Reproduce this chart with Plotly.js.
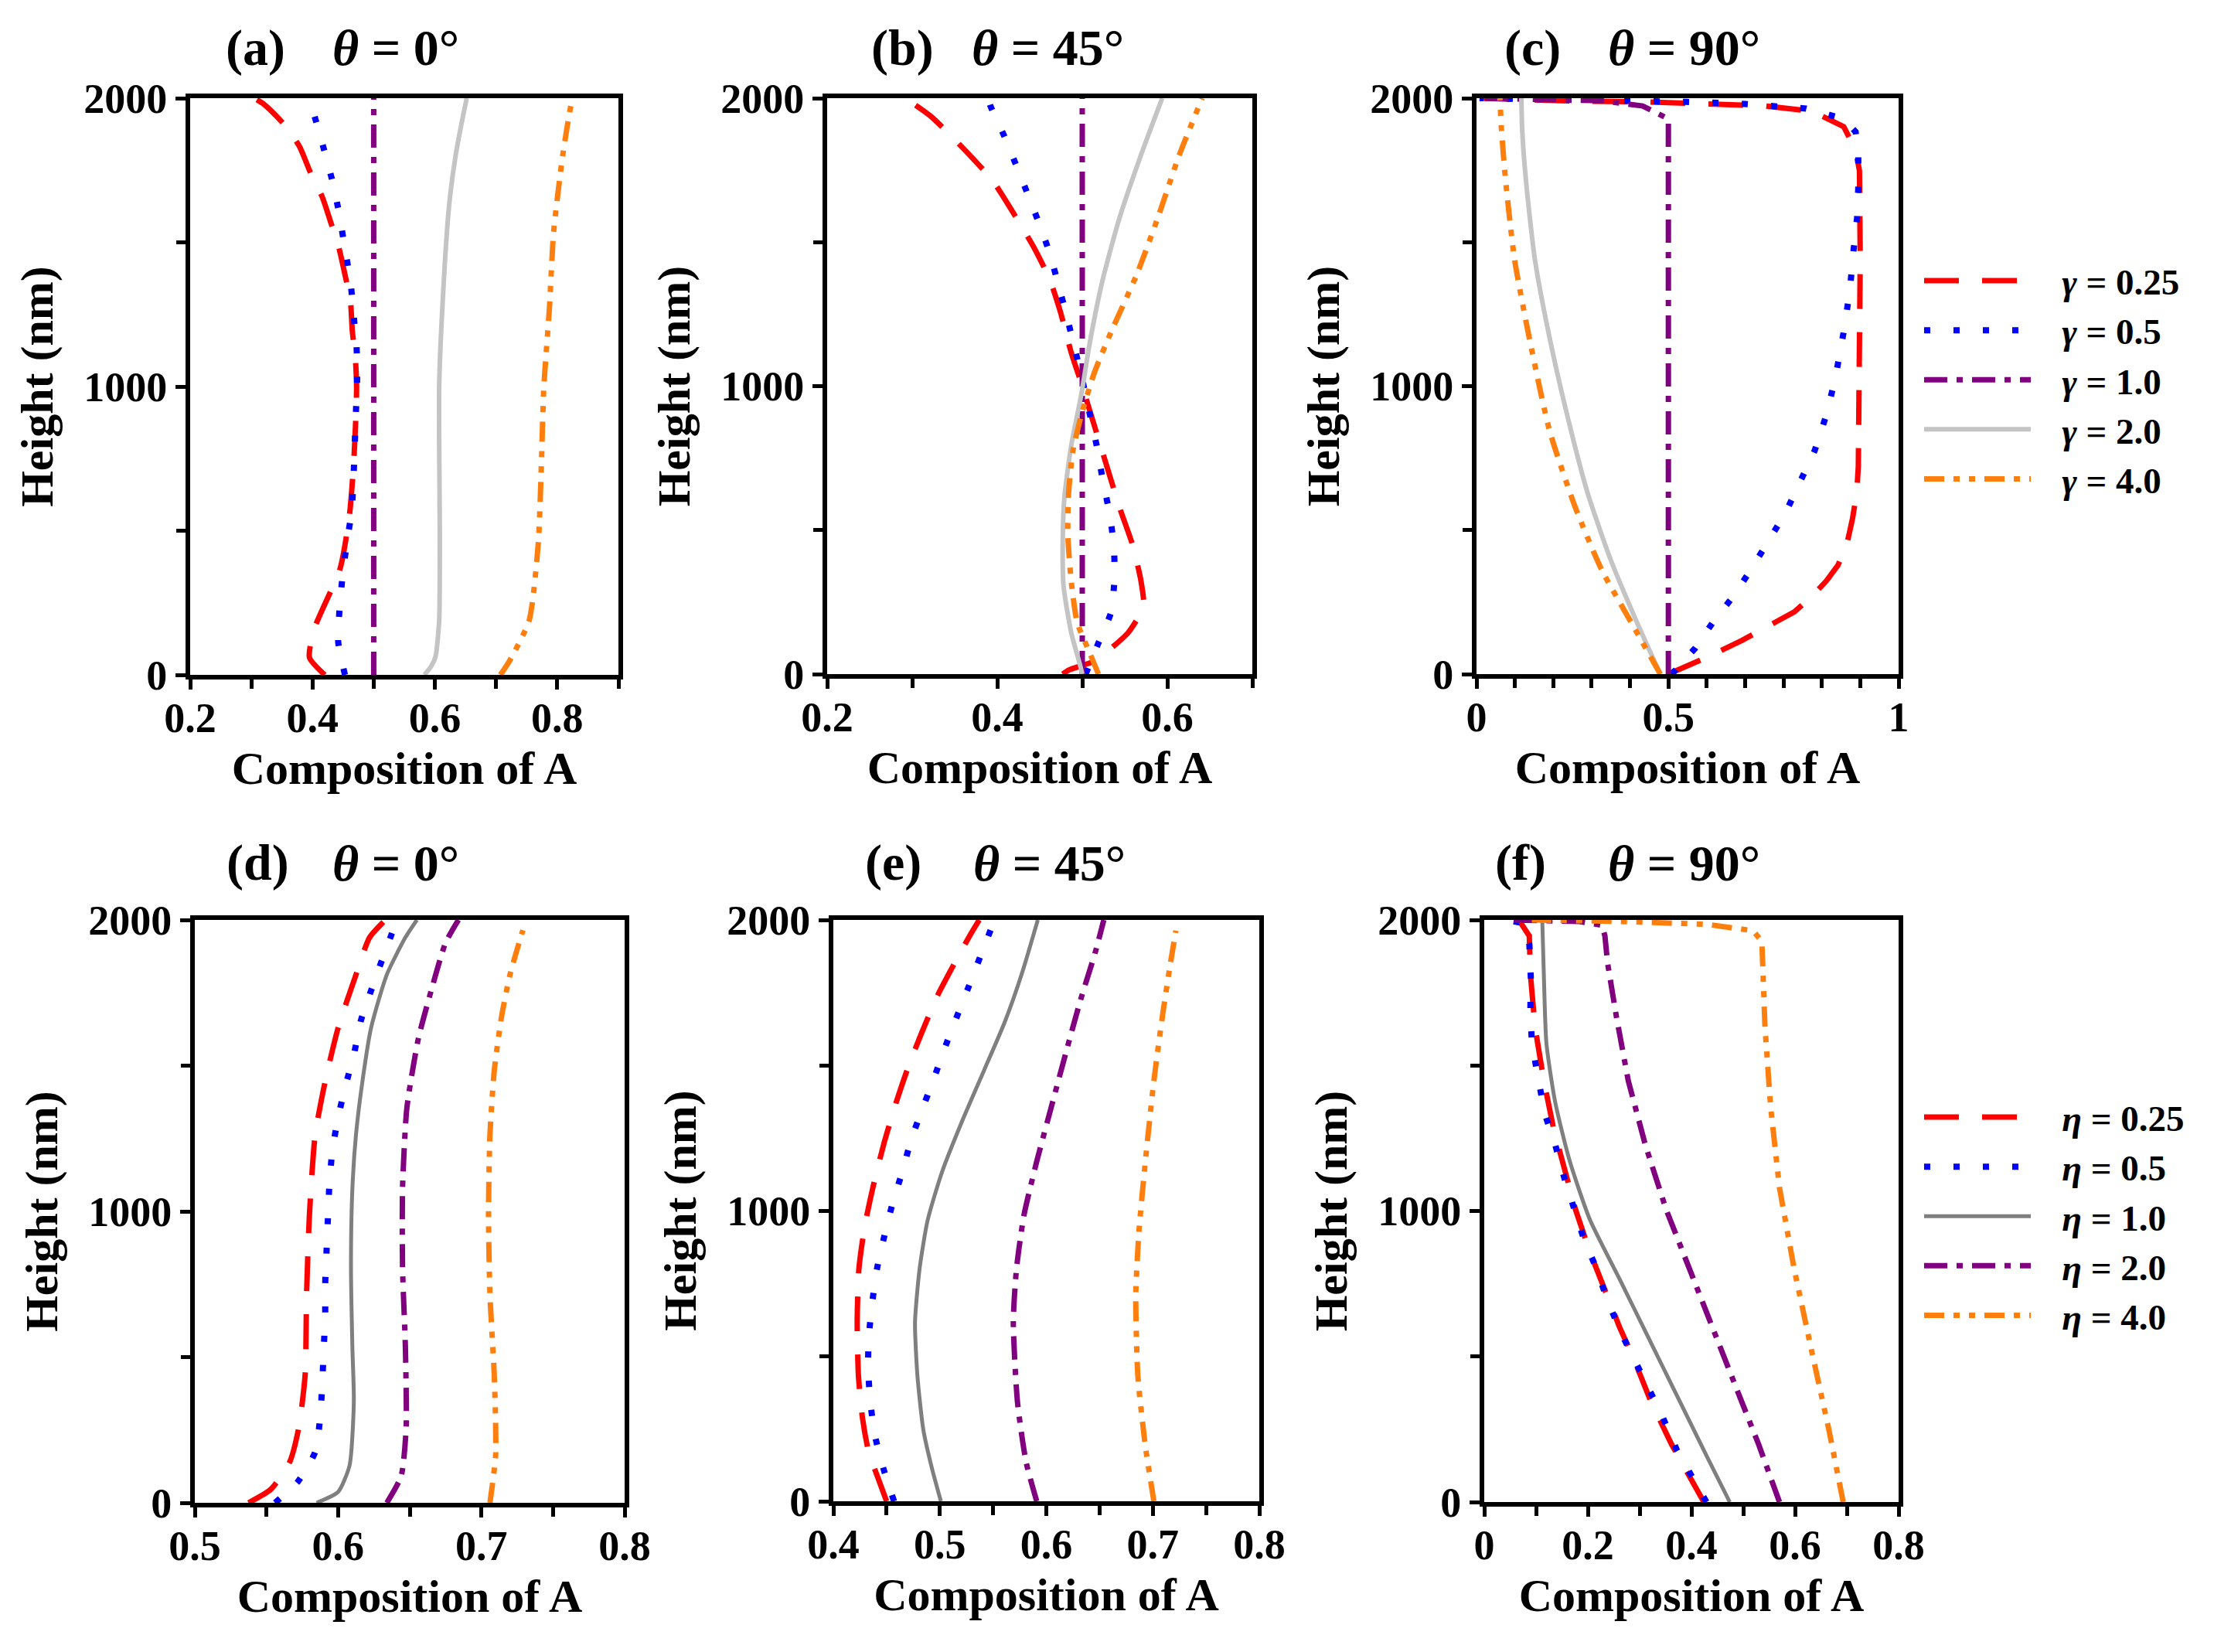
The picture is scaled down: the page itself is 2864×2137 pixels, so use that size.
<!DOCTYPE html>
<html>
<head>
<meta charset="utf-8">
<script src="https://cdn.plot.ly/plotly-3.0.1.min.js"></script>
<style>
  html, body { margin: 0; padding: 0; background: #ffffff; }
  #fig { width: 2864px; height: 2137px; }
</style>
</head>
<body>
<div id="fig"></div>
<script>
// ---- data: height (nm) and composition of A ----
// (a) theta = 0, gamma series
var aRedH = [0, 60, 160, 368, 547, 726, 906, 1000, 1099, 1193, 1295, 1388, 1482, 1568, 1657, 1745, 1831, 1906, 1980, 2000];
var aRedX = [0.42, 0.395, 0.403, 0.445, 0.46, 0.467, 0.471, 0.472, 0.47, 0.465, 0.462, 0.453, 0.443, 0.43, 0.416, 0.396, 0.379, 0.355, 0.32, 0.305];
var aBlueH = [0, 113, 224, 341, 457, 569, 682, 795, 915, 1027, 1137, 1252, 1365, 1477, 1595, 1708, 1820, 1925, 1960];
var aBlueX = [0.453, 0.442, 0.444, 0.449, 0.456, 0.464, 0.467, 0.469, 0.471, 0.473, 0.472, 0.467, 0.462, 0.453, 0.444, 0.433, 0.419, 0.405, 0.40];
var aPurpleH = [0, 2000];
var aPurpleX = [0.5, 0.5];
var aGrayH = [0, 30, 63, 188, 500, 800, 1000, 1265, 1623, 1803, 1928, 2000];
var aGrayX = [0.583, 0.594, 0.601, 0.607, 0.608, 0.607, 0.607, 0.612, 0.623, 0.634, 0.645, 0.652];
var aOrangeH = [0, 45, 188, 457, 726, 996, 1265, 1534, 1803, 1982, 2000];
var aOrangeX = [0.707, 0.721, 0.754, 0.769, 0.774, 0.778, 0.787, 0.794, 0.809, 0.823, 0.826];

// (b) theta = 45, gamma series
var bRedH = [0, 14, 45, 90, 144, 234, 324, 450, 577, 721, 865, 1009, 1117, 1261, 1369, 1477, 1577, 1712, 1820, 1937, 2000];
var bRedX = [0.477, 0.484, 0.514, 0.534, 0.554, 0.572, 0.569, 0.559, 0.544, 0.529, 0.514, 0.499, 0.487, 0.474, 0.462, 0.444, 0.424, 0.395, 0.362, 0.322, 0.292];
var bBlueH = [0, 108, 216, 342, 450, 559, 676, 793, 901, 1009, 1121, 1240, 1351, 1459, 1559, 1658, 1762, 1870, 1973, 2000];
var bBlueX = [0.504, 0.519, 0.534, 0.538, 0.537, 0.532, 0.524, 0.517, 0.509, 0.501, 0.492, 0.482, 0.472, 0.462, 0.45, 0.437, 0.423, 0.408, 0.392, 0.389];
var bPurpleH = [0, 2000];
var bPurpleX = [0.5, 0.5];
var bGrayH = [0, 36, 144, 306, 450, 613, 793, 973, 1153, 1369, 1586, 1802, 2000];
var bGrayX = [0.5, 0.497, 0.487, 0.478, 0.477, 0.479, 0.487, 0.499, 0.509, 0.524, 0.544, 0.569, 0.594];
var bOrangeH = [0, 72, 180, 324, 486, 631, 775, 901, 1045, 1189, 1387, 1586, 1802, 2000];
var bOrangeX = [0.519, 0.509, 0.494, 0.487, 0.483, 0.484, 0.489, 0.499, 0.514, 0.534, 0.564, 0.589, 0.614, 0.641];

// (c) theta = 90, gamma series
var cRedH = [0, 58, 117, 171, 216, 270, 324, 378, 450, 541, 631, 721, 1081, 1441, 1748, 1820, 1901, 1955, 1973, 1982, 1987, 1991, 2000];
var cRedX = [0.5, 0.6, 0.692, 0.767, 0.828, 0.874, 0.912, 0.942, 0.965, 0.98, 0.991, 0.995, 0.998, 1.0, 0.998, 0.988, 0.957, 0.874, 0.752, 0.6, 0.448, 0.22, 0.008];
var cBlueH = [0, 90, 180, 270, 360, 459, 559, 667, 775, 901, 1027, 1189, 1333, 1477, 1586, 1694, 1802, 1883, 1928, 1964, 1982, 1987, 1994, 2000];
var cBlueX = [0.509, 0.57, 0.616, 0.669, 0.714, 0.76, 0.805, 0.843, 0.881, 0.912, 0.935, 0.957, 0.973, 0.983, 0.992, 0.995, 0.995, 0.988, 0.957, 0.859, 0.676, 0.547, 0.296, 0.008];
var cPurpleH = [0, 1928, 1973, 1991, 2000];
var cPurpleX = [0.5, 0.5, 0.433, 0.327, 0.008];
var cGrayH = [0, 180, 396, 631, 901, 1171, 1441, 1712, 1892, 2000];
var cGrayX = [0.479, 0.418, 0.35, 0.289, 0.236, 0.19, 0.152, 0.129, 0.119, 0.117];
var cOrangeH = [0, 180, 360, 577, 847, 1171, 1441, 1712, 1892, 2000];
var cOrangeX = [0.479, 0.403, 0.327, 0.258, 0.19, 0.137, 0.099, 0.076, 0.065, 0.061];

// (d) theta = 0, eta series
var dRedH = [0, 46, 137, 256, 439, 714, 988, 1263, 1446, 1629, 1812, 1940, 2000];
var dRedX = [0.5375, 0.553, 0.566, 0.5725, 0.577, 0.578, 0.58, 0.584, 0.591, 0.6, 0.6125, 0.622, 0.633];
var dBlueH = [0, 73, 174, 293, 412, 531, 640, 750, 869, 988, 1098, 1208, 1321, 1427, 1537, 1656, 1757, 1867, 1973, 2000];
var dBlueX = [0.556, 0.572, 0.584, 0.5875, 0.589, 0.59, 0.591, 0.591, 0.592, 0.593, 0.594, 0.596, 0.6, 0.605, 0.611, 0.616, 0.623, 0.631, 0.639, 0.641];
var dGrayH = [0, 37, 128, 348, 531, 805, 1080, 1263, 1446, 1629, 1812, 1940, 2000];
var dGrayX = [0.585, 0.6, 0.608, 0.611, 0.61, 0.609, 0.61, 0.6125, 0.617, 0.623, 0.634, 0.647, 0.655];
var dPurpleH = [0, 91, 256, 531, 805, 1080, 1354, 1592, 1775, 1921, 2000];
var dPurpleX = [0.634, 0.644, 0.6475, 0.647, 0.645, 0.645, 0.648, 0.656, 0.666, 0.675, 0.684];
var dOrangeH = [0, 165, 439, 714, 988, 1263, 1482, 1665, 1812, 1965];
var dOrangeX = [0.706, 0.71, 0.709, 0.706, 0.705, 0.706, 0.709, 0.714, 0.72, 0.729];

// (e) theta = 45, eta series
var eRedH = [0, 70, 172, 283, 430, 615, 800, 947, 1077, 1224, 1372, 1501, 1612, 1741, 1852, 1945, 2000];
var eRedX = [0.45, 0.443, 0.433, 0.4275, 0.4236, 0.4224, 0.424, 0.4295, 0.437, 0.447, 0.459, 0.471, 0.483, 0.498, 0.514, 0.528, 0.537];
var eBlueH = [0, 113, 227, 347, 467, 569, 685, 800, 914, 1030, 1136, 1243, 1344, 1450, 1553, 1658, 1760, 1874, 1978, 2000];
var eBlueX = [0.457, 0.447, 0.439, 0.4346, 0.4326, 0.4334, 0.4366, 0.441, 0.448, 0.456, 0.465, 0.473, 0.483, 0.494, 0.504, 0.515, 0.526, 0.538, 0.549, 0.551];
var eGrayH = [0, 116, 246, 430, 615, 800, 966, 1132, 1317, 1483, 1649, 1815, 2000];
var eGrayX = [0.501, 0.4924, 0.4845, 0.479, 0.4767, 0.481, 0.4885, 0.502, 0.522, 0.5416, 0.561, 0.577, 0.592];
var ePurpleH = [0, 135, 338, 615, 800, 984, 1169, 1354, 1538, 1723, 1889, 2000];
var ePurpleX = [0.591, 0.581, 0.573, 0.569, 0.572, 0.579, 0.591, 0.6045, 0.618, 0.632, 0.646, 0.654];
var eOrangeH = [0, 190, 430, 707, 929, 1169, 1446, 1668, 1852, 1963];
var eOrangeX = [0.701, 0.693, 0.686, 0.684, 0.687, 0.693, 0.701, 0.709, 0.7166, 0.7217];

// (f) theta = 90, eta series
var fRedH = [0, 86, 197, 344, 491, 602, 730, 859, 1006, 1154, 1282, 1448, 1632, 1816, 1945, 1991, 2000];
var fRedX = [0.424, 0.396, 0.362, 0.322, 0.289, 0.261, 0.233, 0.204, 0.176, 0.154, 0.134, 0.115, 0.098, 0.089, 0.087, 0.07, 0.042];
var fBlueH = [0, 178, 298, 399, 510, 593, 703, 804, 911, 1016, 1117, 1228, 1333, 1467, 1577, 1688, 1798, 1918, 1991, 2000];
var fBlueX = [0.429, 0.372, 0.343, 0.315, 0.287, 0.261, 0.236, 0.216, 0.191, 0.171, 0.154, 0.137, 0.117, 0.103, 0.092, 0.089, 0.09, 0.087, 0.07, 0.04];
var fGrayH = [0, 160, 362, 565, 767, 970, 1172, 1374, 1577, 1816, 2000];
var fGrayX = [0.474, 0.429, 0.373, 0.317, 0.261, 0.204, 0.165, 0.137, 0.12, 0.115, 0.112];
var fPurpleH = [0, 197, 399, 602, 804, 1006, 1227, 1448, 1669, 1853, 1945, 1982, 1995, 2000];
var fPurpleX = [0.57, 0.53, 0.485, 0.44, 0.396, 0.351, 0.311, 0.278, 0.255, 0.238, 0.233, 0.227, 0.182, 0.047];
var fOrangeH = [0, 252, 528, 804, 1080, 1356, 1632, 1926, 1963, 1985, 1995, 2000];
var fOrangeX = [0.693, 0.665, 0.631, 0.598, 0.57, 0.553, 0.542, 0.536, 0.519, 0.429, 0.261, 0.092];

var gammaNames = ['<i>γ</i> = 0.25', '<i>γ</i> = 0.5', '<i>γ</i> = 1.0', '<i>γ</i> = 2.0', '<i>γ</i> = 4.0'];
var etaNames = ['<i>η</i> = 0.25', '<i>η</i> = 0.5', '<i>η</i> = 1.0', '<i>η</i> = 2.0', '<i>η</i> = 4.0'];
var panelLetters = ['(a)', '(b)', '(c)', '(d)', '(e)', '(f)'];
var panelAngles = ['0°', '45°', '90°', '0°', '45°', '90°'];

// ---- styles ----
var FONT = 'Liberation Serif, Times New Roman, serif';
var sRed = {color: '#ff0000', width: 7, dash: '45px,30px'};
var sBlue = {color: '#0000ff', width: 8, dash: '8px,30px'};
var sPurple = {color: '#800080', width: 7, dash: '30px,12px,8px,12px'};
var sLightGray = {color: '#c4c4c4', width: 6, dash: 'solid'};
var sDarkGray = {color: '#7f7f7f', width: 5, dash: 'solid'};
var sOrange = {color: '#ff7f0e', width: 7, dash: '26px,12px,8px,12px,8px,12px'};

var PAD = '\u00a0\u00a0\u00a0';

function line(xs, hs, style, ax, name, legendId, shape) {
    return {
        type: 'scatter',
        mode: 'lines',
        x: xs,
        y: hs,
        xaxis: 'x' + ax,
        yaxis: 'y' + ax,
        name: name ? PAD + name : '',
        showlegend: !!legendId,
        legend: legendId || 'legend',
        line: {color: style.color, width: style.width, dash: style.dash, shape: shape || 'spline', smoothing: 0.6},
        hoverinfo: 'skip'
    };
}

var data = [
    line(aRedX, aRedH, sRed, 1), line(aBlueX, aBlueH, sBlue, 1), line(aPurpleX, aPurpleH, sPurple, 1, null, null, 'linear'),
    line(aGrayX, aGrayH, sLightGray, 1), line(aOrangeX, aOrangeH, sOrange, 1),

    line(bRedX, bRedH, sRed, 2), line(bBlueX, bBlueH, sBlue, 2), line(bPurpleX, bPurpleH, sPurple, 2, null, null, 'linear'),
    line(bGrayX, bGrayH, sLightGray, 2), line(bOrangeX, bOrangeH, sOrange, 2),

    line(cRedX, cRedH, sRed, 3, gammaNames[0], 'legend', 'linear'),
    line(cBlueX, cBlueH, sBlue, 3, gammaNames[1], 'legend', 'linear'),
    line(cPurpleX, cPurpleH, sPurple, 3, gammaNames[2], 'legend', 'linear'),
    line(cGrayX, cGrayH, sLightGray, 3, gammaNames[3], 'legend'),
    line(cOrangeX, cOrangeH, sOrange, 3, gammaNames[4], 'legend'),

    line(dRedX, dRedH, sRed, 4), line(dBlueX, dBlueH, sBlue, 4), line(dGrayX, dGrayH, sDarkGray, 4),
    line(dPurpleX, dPurpleH, sPurple, 4), line(dOrangeX, dOrangeH, sOrange, 4),

    line(eRedX, eRedH, sRed, 5), line(eBlueX, eBlueH, sBlue, 5), line(eGrayX, eGrayH, sDarkGray, 5),
    line(ePurpleX, ePurpleH, sPurple, 5), line(eOrangeX, eOrangeH, sOrange, 5),

    line(fRedX, fRedH, sRed, 6, etaNames[0], 'legend2', 'linear'),
    line(fBlueX, fBlueH, sBlue, 6, etaNames[1], 'legend2', 'linear'),
    line(fGrayX, fGrayH, sDarkGray, 6, etaNames[2], 'legend2'),
    line(fPurpleX, fPurpleH, sPurple, 6, etaNames[3], 'legend2', 'linear'),
    line(fOrangeX, fOrangeH, sOrange, 6, etaNames[4], 'legend2', 'linear')
];

// ---- axes ----
var W = 2864, H = 2137;
// plot boxes in pixels [left, right, top, bottom]
var boxes = [
    [246, 800, 127, 873], [1070, 1620, 127, 872], [1910, 2456, 127, 872],
    [252, 808, 1190, 1944], [1078, 1629, 1190, 1942], [1920, 2456, 1190, 1943]
];
var xRanges = [[0.2, 0.9], [0.2, 0.7], [0, 1.1], [0.5, 0.8], [0.4, 0.8], [0, 0.8]];
var xMajor = [[0.2, 0.4, 0.6, 0.8], [0.2, 0.4, 0.6], [0, 0.5, 1.1], [0.5, 0.6, 0.7, 0.8], [0.4, 0.5, 0.6, 0.7, 0.8], [0, 0.2, 0.4, 0.6, 0.8]];
var xMajorText = [['0.2', '0.4', '0.6', '0.8'], ['0.2', '0.4', '0.6'], ['0', '0.5', '1'], ['0.5', '0.6', '0.7', '0.8'], ['0.4', '0.5', '0.6', '0.7', '0.8'], ['0', '0.2', '0.4', '0.6', '0.8']];
var xMinorStep = [0.1, 0.1, 0.1, 0.05, 0.05, 0.1];

var legendFont = {family: FONT, size: 47, weight: 'bold', color: '#000000'};
var layout = {
    width: W,
    height: H,
    margin: {l: 0, r: 0, t: 0, b: 0},
    paper_bgcolor: '#ffffff',
    plot_bgcolor: '#ffffff',
    font: {family: FONT, color: '#000000', size: 54, weight: 'bold'},
    showlegend: true,
    legend: {
        x: 2484 / W, y: 1 - 326 / H, xanchor: 'left', yanchor: 'top',
        font: legendFont, itemwidth: 138, tracegroupgap: 0, bgcolor: 'rgba(0,0,0,0)'
    },
    legend2: {
        x: 2484 / W, y: 1 - 1408 / H, xanchor: 'left', yanchor: 'top',
        font: legendFont, itemwidth: 138, tracegroupgap: 0, bgcolor: 'rgba(0,0,0,0)'
    },
    annotations: []
};

for (var i = 0; i < 6; i++) {
    var b = boxes[i];
    var n = i + 1;
    var minorVals = [];
    for (var v = xRanges[i][0]; v <= xRanges[i][1] + 1e-9; v += xMinorStep[i]) {
        minorVals.push(Math.round(v * 1000) / 1000);
    }
    layout['xaxis' + n] = {
        domain: [b[0] / W, b[1] / W],
        anchor: 'y' + n,
        range: xRanges[i],
        tickmode: 'array',
        tickvals: xMajor[i],
        ticktext: xMajorText[i],
        ticks: 'outside', ticklen: 13, tickwidth: 5, tickcolor: '#000000',
        ticklabelstandoff: -10,
        minor: {tickmode: 'array', tickvals: minorVals, ticks: 'outside', ticklen: 12, tickwidth: 5, tickcolor: '#000000', showgrid: false},
        showline: true, linewidth: 6, linecolor: '#000000', mirror: true,
        showgrid: false, zeroline: false,
        tickfont: {family: FONT, size: 54, weight: 'bold', color: '#000000'},
        title: {text: 'Composition of A', font: {family: FONT, size: 60, weight: 'bold', color: '#000000'}, standoff: 16}
    };
    layout['yaxis' + n] = {
        domain: [1 - b[3] / H, 1 - b[2] / H],
        anchor: 'x' + n,
        range: [0, 2000],
        tickmode: 'array',
        tickvals: [0, 1000, 2000],
        ticks: 'outside', ticklen: 13, tickwidth: 5, tickcolor: '#000000',
        minor: {tickmode: 'array', tickvals: [500, 1500], ticks: 'outside', ticklen: 12, tickwidth: 5, tickcolor: '#000000', showgrid: false},
        showline: true, linewidth: 6, linecolor: '#000000', mirror: true,
        showgrid: false, zeroline: false,
        tickfont: {family: FONT, size: 54, weight: 'bold', color: '#000000'},
        title: {text: 'Height (nm)', font: {family: FONT, size: 60, weight: 'bold', color: '#000000'}, standoff: 22}
    };
}

// panel titles: letter and angle
var letterX = [330, 1167, 1982, 333, 1155, 1967];
var angleX = [512, 1355, 2178, 512, 1357, 2178];
var titleY = [62, 62, 62, 1116, 1116, 1116];
for (var k = 0; k < 6; k++) {
    var tfont = {family: FONT, size: 66, weight: 'bold', color: '#000000'};
    layout.annotations.push({
        xref: 'paper', yref: 'paper', x: letterX[k] / W, y: 1 - titleY[k] / H,
        xanchor: 'center', yanchor: 'middle', showarrow: false,
        text: panelLetters[k], font: tfont
    });
    layout.annotations.push({
        xref: 'paper', yref: 'paper', x: angleX[k] / W, y: 1 - titleY[k] / H,
        xanchor: 'center', yanchor: 'middle', showarrow: false,
        text: '<i>θ</i> = ' + panelAngles[k], font: tfont
    });
}

Plotly.newPlot('fig', data, layout, {staticPlot: true, displayModeBar: false});
</script>
</body>
</html>
